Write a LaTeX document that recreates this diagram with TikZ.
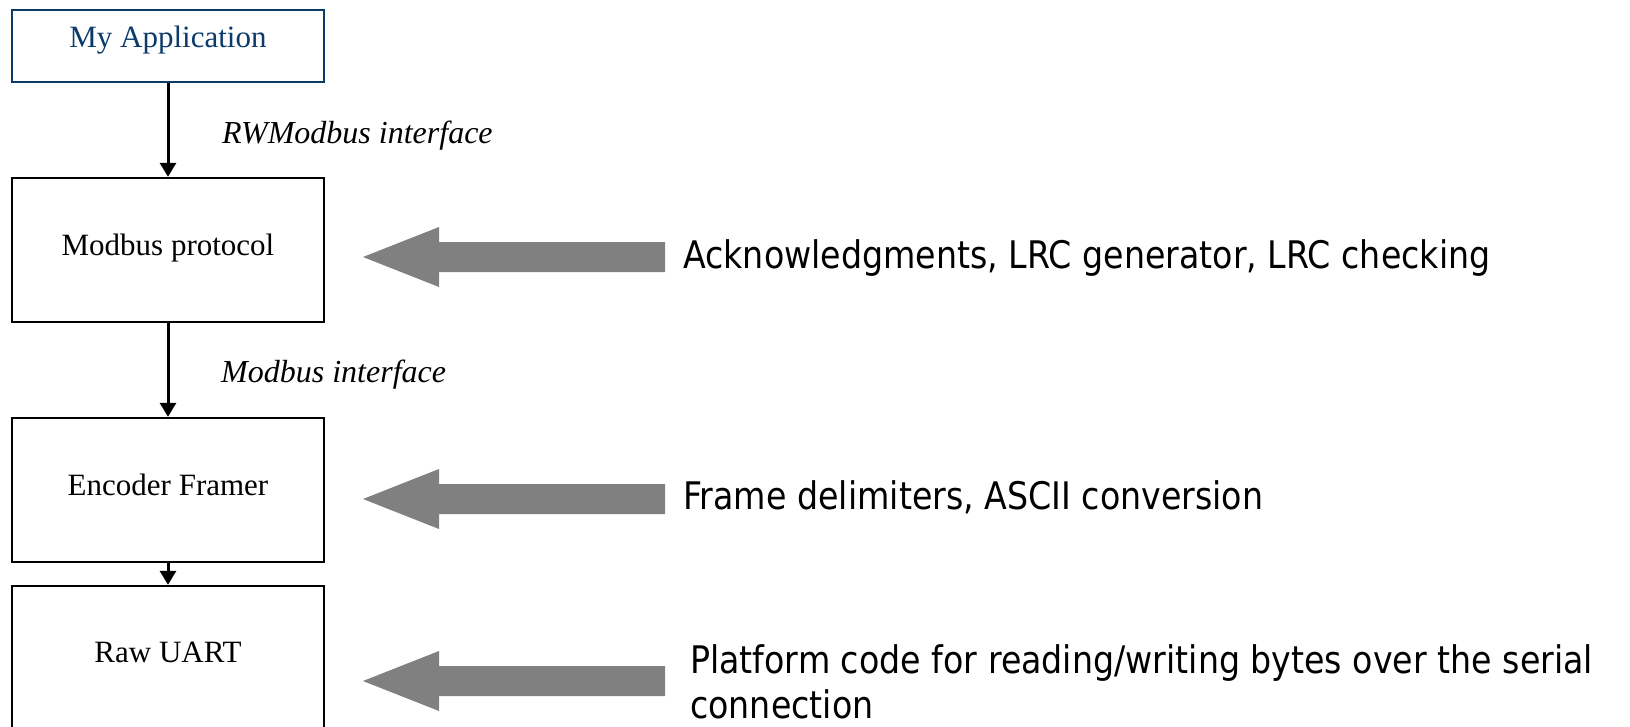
\documentclass[tikz,border=0pt]{standalone}
\usepackage{fontspec}
\setmainfont{Liberation Serif}
\newfontfamily\notefont[FakeStretch=0.875]{DejaVu Sans}
\usetikzlibrary{arrows.meta}
\definecolor{appblue}{HTML}{0B3A6B}
\definecolor{bargray}{HTML}{808080}
\tikzset{
  layerbox/.style={draw=black, line width=2.4pt, minimum width=312pt,
    minimum height=144pt, inner sep=0pt, text depth=11pt,
    font=\fontsize{31}{36}\selectfont},
  appbox/.style={layerbox, draw=appblue, text=appblue, minimum height=72pt, text depth=18pt},
  flow/.style={line width=3pt, -{Triangle[width=16pt,length=14pt]}},
  iface/.style={font=\fontsize{32}{38}\selectfont\itshape, anchor=base west, inner sep=0pt},
  note/.style={font=\notefont\fontsize{38}{45}\selectfont, anchor=west, inner sep=0pt, align=left},
  blockarrow/.pic={\fill[bargray] (0,-15) -- (-226,-15) -- (-226,-30) -- (-302,0)
    -- (-226,30) -- (-226,15) -- (0,15) -- cycle;}
}
\begin{document}
\begin{tikzpicture}[x=1pt, y=-1pt]
  \useasboundingbox (0,0) rectangle (1630,726);
  \clip (0,0) rectangle (1630,726);

  % protocol stack, top to bottom
  \node[appbox]   (app)  at (168,46)  {My Application};
  \node[layerbox] (mb)   at (168,250) {Modbus protocol};
  \node[layerbox] (enc)  at (168,490) {Encoder Framer};
  \node[layerbox] (uart) at (168,658) {Raw UART};

  \draw[flow] (app.south) -- (mb.north);
  \draw[flow] (mb.south)  -- (enc.north);
  \draw[flow] (enc.south) -- (uart.north);

  \node[iface] (rwif) at (222,143) {RWModbus interface};
  \node[iface] (mbif) at (221,382) {Modbus interface};

  % responsibilities of each layer
  \pic at (665,257) {blockarrow};
  \pic at (665,499) {blockarrow};
  \pic at (665,681) {blockarrow};

  \node[note] (n1) at (683,258) {Acknowledgments, LRC generator, LRC checking};
  \node[note] (n2) at (683,497) {Frame delimiters, ASCII conversion};
  \node[note] (n3) at (690,682) {Platform code for reading/writing bytes over the serial\\connection};
\end{tikzpicture}
\end{document}
